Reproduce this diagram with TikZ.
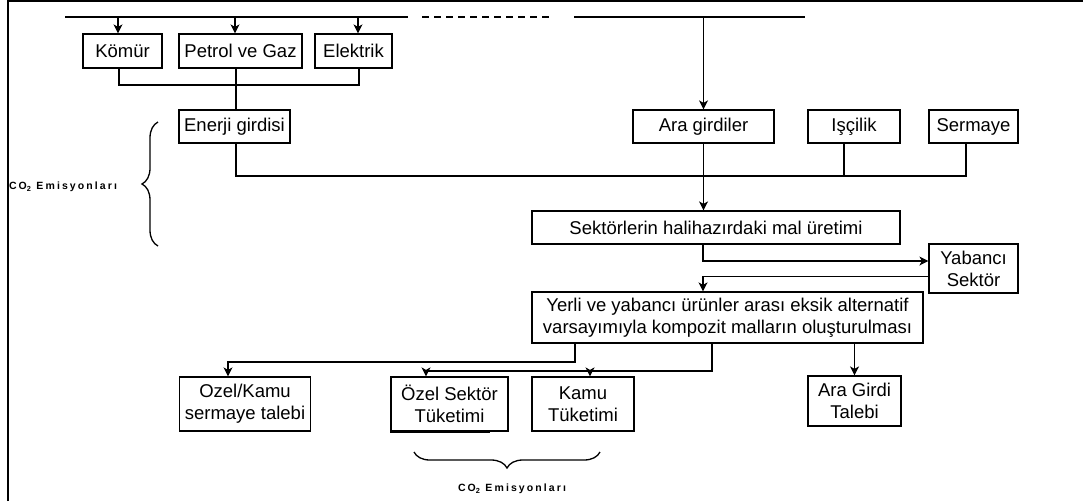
\documentclass[tikz,border=0pt]{standalone}
\usepackage{fontspec}
\setmainfont{Liberation Sans}
\newfontfamily\emisfont{Liberation Sans}[LetterSpace=20.0]
\usetikzlibrary{arrows.meta,decorations.pathreplacing}
\begin{document}
\begin{tikzpicture}[x=1pt,y=-1pt,
  box/.style={draw,line width=1.2pt,inner sep=0pt,align=center,font=\fontsize{18.5}{22}\selectfont},
  ln/.style={line width=1.3pt},
  arr/.style={line width=1.3pt,-{Stealth[length=9pt,width=9pt,inset=2.5pt]}},
  brc/.style={line width=1.3pt,decorate,decoration={brace,amplitude=16pt}},
  emis/.style={font=\emisfont\fontsize{10.5}{12}\selectfont\bfseries}]
\useasboundingbox (0,0) rectangle (1083,501);
\draw[line width=2pt] (8,501) -- (8,1) -- (1083,1);
% boxes
\node[box,minimum width=79pt,minimum height=34pt] (komur) at (122.5,51) {Kömür};
\node[box,minimum width=123pt,minimum height=34pt] (petrol) at (240.5,51) {Petrol ve Gaz};
\node[box,minimum width=77pt,minimum height=34pt] (elektrik) at (353.5,51) {Elektrik};
\node[box,minimum width=111pt,minimum height=33pt] (enerji) at (234.5,126.5) {Enerji girdisi};
\node[box,minimum width=141pt,minimum height=33pt] (ara) at (703.5,126.5) {Ara girdiler};
\node[box,minimum width=92pt,minimum height=33pt] (isci) at (854,126.5) {Işçilik};
\node[box,minimum width=89pt,minimum height=33pt] (serm) at (973.5,126.5) {Sermaye};
\node[box,minimum width=368pt,minimum height=33pt] (sektor) at (716,227.5) {Sektörlerin halihazırdaki mal üretimi};
\node[box,minimum width=89pt,minimum height=49pt] (yab) at (973.5,268.5) {Yabancı\\Sektör};
\node[box,minimum width=391pt,minimum height=51pt] (yerli) at (727.5,317.5) {Yerli ve yabancı ürünler arası eksik alternatif\\varsayımıyla kompozit malların oluşturulması};
\node[box,minimum width=131pt,minimum height=54pt] (ozk) at (245,404) {Ozel/Kamu\\sermaye talebi};
\node[box,minimum width=117pt,minimum height=54pt] (ozs) at (449.5,404) {Özel Sektör\\Tüketimi};
\node[box,minimum width=102pt,minimum height=54pt] (kamu) at (583,404) {Kamu\\Tüketimi};
\node[box,minimum width=93pt,minimum height=50pt] (aratal) at (854.5,401) {Ara Girdi\\Talebi};
\draw[line width=2pt] (ozs.south west) -- ++(100,0);
% top bar
\coordinate (tb1) at (65,17);
\coordinate (tb2) at (408,17);
\coordinate (td1) at (422,17);
\coordinate (td2) at (550,17);
\coordinate (tr1) at (574,17);
\coordinate (tr2) at (805,17);
\draw[ln] (tb1) -- (tb2);
\draw[ln,dash pattern=on 7pt off 5pt] (td1) -- (td2);
\draw[ln] (tr1) -- (tr2);
\coordinate (t1) at (118,17);
\coordinate (t2) at (235,17);
\coordinate (t3) at (358,17);
\coordinate (t4) at (703.5,17);
\draw[arr] (t1) -- (t1 |- komur.north);
\draw[arr] (t2) -- (t2 |- petrol.north);
\draw[arr] (t3) -- (t3 |- elektrik.north);
\draw[arr] (t4) -- (ara.north);
% energy merge
\coordinate (k1) at (119,85);
\coordinate (k2) at (359,85);
\coordinate (p1) at (236,85);
\draw[ln] (k1 |- komur.south) -- (k1) -- (k2) -- (k2 |- elektrik.south);
\draw[ln] (p1 |- petrol.south) -- (p1 |- enerji.north);
% inputs merge
\coordinate (h1) at (236,176);
\coordinate (h2) at (966,176);
\coordinate (h3) at (844,176);
\draw[ln] (h1 |- enerji.south) -- (h1) -- (h2) -- (h2 |- serm.south);
\draw[ln] (h3 |- isci.south) -- (h3);
\draw[arr] (ara.south) -- (ara.south |- sektor.north);
% foreign sector
\coordinate (s1) at (703,261);
\draw[arr] (s1 |- sektor.south) -- (s1) -- (s1 -| yab.west);
\coordinate (y1) at (703,276.5);
\draw[arr] (y1 -| yab.west) -- (y1) -- (y1 |- yerli.north);
% demand
\coordinate (b1) at (575,362);
\coordinate (b2) at (228,362);
\draw[arr] (b1 |- yerli.south) -- (b1) -- (b2) -- (b2 |- ozk.north);
\coordinate (c1) at (712,371);
\coordinate (c2) at (426,371);
\coordinate (c3) at (590,371);
\draw[ln] (c1 |- yerli.south) -- (c1) -- (c2);
\draw[arr] (c2) -- (c2 |- ozs.north);
\draw[arr] (c3) -- (c3 |- kamu.north);
\draw[arr] (aratal.north |- yerli.south) -- (aratal.north);
% braces
\coordinate (lb1) at (158,122);
\coordinate (lb2) at (158,246);
\draw[brc] (lb2) -- (lb1);
\node[emis] (em1) at (63,187) {CO\textsubscript{2} Emisyonları};
\coordinate (bb1) at (414,452);
\coordinate (bb2) at (600,452);
\draw[brc] (bb2) -- (bb1);
\node[emis] (em2) at (512,489) {CO\textsubscript{2} Emisyonları};
\end{tikzpicture}
\end{document}
